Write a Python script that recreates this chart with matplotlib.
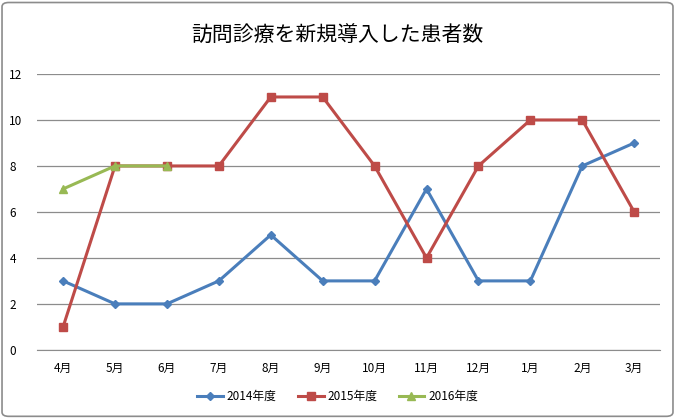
import matplotlib.pyplot as plt
from matplotlib.patches import FancyBboxPatch

plt.rcParams['font.family'] = ['Noto Sans CJK JP', 'DejaVu Sans']

# データ
meses = ['4月', '5月', '6月', '7月', '8月', '9月', '10月', '11月', '12月', '1月', '2月', '3月']
y2014 = [3, 2, 2, 3, 5, 3, 3, 7, 3, 3, 8, 9]
y2015 = [1, 8, 8, 8, 11, 11, 8, 4, 8, 10, 10, 6]
y2016 = [7, 8, 8]

fig = plt.figure(figsize=(6.75, 4.18), dpi=100)
ax = fig.add_axes([0.055, 0.163, 0.923, 0.66])

x = range(len(meses))
ax.plot(x, y2014, color='#4A7EBB', lw=2.2, marker='D', ms=4.5, label='2014年度')
ax.plot(x, y2015, color='#BE4B48', lw=2.2, marker='s', ms=6, label='2015年度')
ax.plot(range(len(y2016)), y2016, color='#98B954', lw=2.2, marker='^', ms=6, label='2016年度')

ax.set_xlim(-0.5, 11.5)
ax.set_ylim(0, 12)
ax.set_yticks(range(0, 13, 2))
ax.set_xticks(list(x))
ax.set_xticklabels(meses)
ax.yaxis.grid(True, color='#8C8C8C', lw=0.9)
ax.set_axisbelow(True)
for s in ['top', 'right', 'left']:
    ax.spines[s].set_visible(False)
ax.spines['bottom'].set_color('#8C8C8C')
ax.tick_params(axis='both', length=0, labelsize=8.5)
ax.tick_params(axis='x', pad=9)
ax.tick_params(axis='y', pad=20)
for t in ax.get_yticklabels():
    t.set_horizontalalignment('left')

fig.suptitle('訪問診療を新規導入した患者数', fontsize=15, y=0.94)
fig.legend(loc='lower center', ncol=3, frameon=False, fontsize=8.5,
           bbox_to_anchor=(0.5, 0.01), handlelength=2.2, handletextpad=0.3, columnspacing=1.8)

fig.patches.append(FancyBboxPatch((0.003, 0.004), 0.994, 0.99, boxstyle='round,pad=0,rounding_size=0.01',
                                  transform=fig.transFigure, fill=False, ec='#8C8C8C', lw=1.2))

fig.savefig('out.png', dpi=100)
